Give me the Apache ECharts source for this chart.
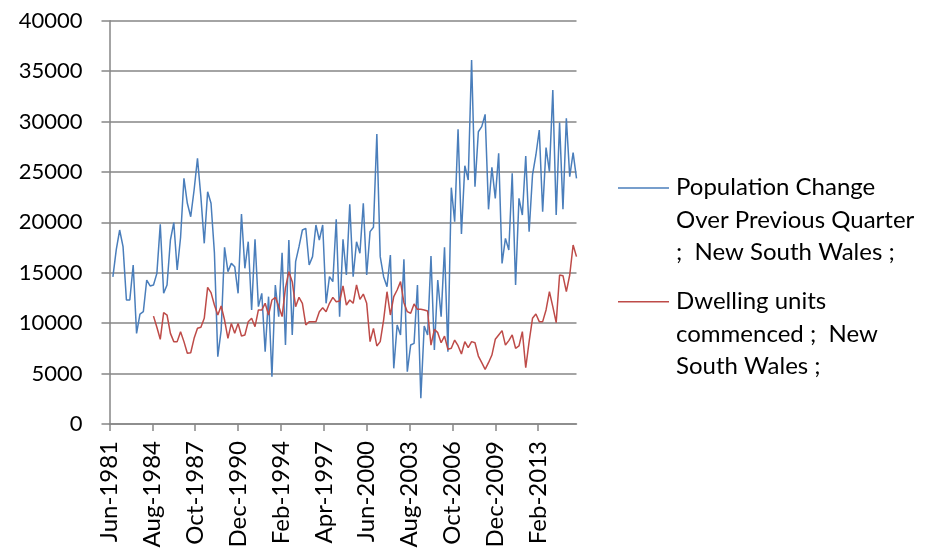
<!DOCTYPE html>
<html>
<head>
<meta charset="utf-8">
<script src="https://cdn.jsdelivr.net/npm/echarts/dist/echarts.min.js"></script>
<style>
  html, body { margin: 0; padding: 0; background: #ffffff; }
  #chart { width: 932px; height: 555px; }
</style>
</head>
<body>
<div id="chart"></div>
<script>
// Monthly category axis running from Jun-1981 to Dec-2015; quarterly observations sit on it.
const monthNames = ['Jan','Feb','Mar','Apr','May','Jun','Jul','Aug','Sep','Oct','Nov','Dec'];
const axisStart = { year: 1981, month: 5 };   // Jun-1981
const axisMonths = 415;                        // through Dec-2015
const tickLabels = ['Jun-1981','Aug-1984','Oct-1987','Dec-1990','Feb-1994','Apr-1997',
                    'Jun-2000','Aug-2003','Oct-2006','Dec-2009','Feb-2013'];
const yTicks = [0, 5000, 10000, 15000, 20000, 25000, 30000, 35000, 40000];

// Quarterly population change, NSW, from Sep-1981
const popChange = [
  14600, 17300, 19240, 17590, 12300, 12300, 15770, 8990, 10900, 11140,
  14280, 13690, 13790, 14940, 19800, 12960, 13790, 18250, 19970, 15270,
  18500, 24360, 21890, 20560, 23210, 26350, 22550, 17920, 23040, 21890,
  17000, 6680, 9320, 17520, 15110, 15930, 15600, 12960, 20830, 15440,
  18080, 11310, 18310, 11640, 12960, 7170, 12630, 4690, 13790, 10650,
  16990, 7840, 18250, 8830, 16100, 17590, 19240, 19410, 15770, 16600,
  19740, 18250, 19740, 11970, 14610, 14120, 20300, 10650, 18320, 14780,
  21790, 14610, 18080, 16930, 21890, 14780, 19080, 19510, 28760, 16600,
  14610, 13620, 16760, 5520, 9820, 8830, 16330, 5190, 7840, 8000,
  13790, 2550, 9720, 8830, 16660, 7340, 14280, 10650, 17520, 7170,
  23440, 20070, 29230, 18840, 25620, 24200, 36100, 23540, 28990, 29490,
  30710, 21290, 25460, 22380, 26850, 15930, 18410, 17260, 24860, 13790,
  22380, 20730, 26580, 19080, 24700, 26680, 29160, 21060, 27410, 25030,
  33130, 20730, 29890, 21290, 30320, 24530, 26910, 24370
];

// Quarterly dwelling units commenced, NSW, from Sep-1984
const dwellingStartQuarter = 12;   // quarters after Sep-1981
const dwellings = [
  10700, 9600, 8400, 11040, 10810, 8990, 8170, 8170, 9160, 8170,
  7010, 7070, 8500, 9490, 9590, 10480, 13550, 13030, 11800, 10810,
  11700, 10310, 8500, 9980, 8990, 9980, 8730, 8830, 10150, 10480,
  9650, 11310, 11310, 11970, 10810, 12300, 12560, 11700, 10650, 13500,
  15110, 14120, 11640, 12560, 11970, 9820, 10150, 10150, 10150, 11140,
  11540, 11140, 11970, 12560, 12130, 12200, 13690, 11800, 12300, 11970,
  13790, 12360, 12890, 11970, 8170, 9490, 7740, 8170, 10310, 13120,
  10810, 12630, 13290, 14120, 12030, 11140, 10980, 11900, 11370, 11370,
  11310, 11200, 7830, 9390, 9060, 8060, 8720, 7410, 7510, 8330,
  7770, 6940, 8170, 7570, 8170, 8060, 6740, 6080, 5420, 6080,
  6840, 8400, 8830, 9260, 7830, 8270, 8830, 7510, 7740, 9160,
  5580, 8170, 10480, 10910, 10150, 10150, 11310, 13120, 11640, 10050,
  14780, 14710, 13120, 14780, 17750, 16600
];

const seriesNames = [
  'Population Change\nOver Previous Quarter\n;  New South Wales ;',
  'Dwelling units\ncommenced ;  New\nSouth Wales ;'
];
const colors = ['#4a7ebb', '#be4b48'];

// Build the month list for the category axis
const categories = [];
for (let i = 0; i < axisMonths; i++) {
  const m = axisStart.month + i;
  categories.push(monthNames[m % 12] + '-' + (axisStart.year + Math.floor(m / 12)));
}
const firstQuarterIdx = categories.indexOf('Sep-1981');
const quarterIndex = q => firstQuarterIdx + 3 * q;

const popData = popChange.map((v, q) => [quarterIndex(q), v]);
const dwellData = dwellings.map((v, i) => [quarterIndex(dwellingStartQuarter + i), v]);

const isTick = idx => tickLabels.indexOf(categories[idx]) !== -1;

const FONT = 'Lato';
const gridColor = '#868686';

const chart = echarts.init(document.getElementById('chart'), null, { renderer: 'canvas' });

// Legend drawn as line swatches with wrapped labels
function legendItem(y, color, text) {
  return [
    { type: 'line', shape: { x1: 618, y1: y, x2: 669, y2: y },
      style: { stroke: color, lineWidth: 1.5 }, silent: true },
    { type: 'text', left: 676, top: y - 16.5,
      style: { text: text, font: '24px ' + FONT, fill: '#000', lineHeight: 32.5 }, silent: true }
  ];
}

chart.setOption({
  animation: false,
  color: colors,
  grid: { left: 109.5, right: 355.5, top: 20.7, bottom: 131, containLabel: false },
  xAxis: {
    type: 'category',
    data: categories,
    boundaryGap: false,
    axisLine: { lineStyle: { color: gridColor, width: 1.5 } },
    axisTick: { show: true, length: 7, interval: idx => isTick(idx),
                lineStyle: { color: gridColor, width: 1.5 } },
    axisLabel: { interval: idx => isTick(idx), rotate: 90, margin: 17,
                 fontFamily: FONT, fontSize: 24, color: '#000' },
    splitLine: { show: false }
  },
  yAxis: {
    type: 'value',
    min: yTicks[0],
    max: yTicks[yTicks.length - 1],
    interval: yTicks[1] - yTicks[0],
    axisLine: { show: true, lineStyle: { color: gridColor, width: 1.5 } },
    axisTick: { show: true, length: 8, lineStyle: { color: gridColor, width: 1.5 } },
    axisLabel: { margin: 27, fontFamily: FONT, fontSize: 22, color: '#000',
                 formatter: v => String(v) },
    splitLine: { show: true, lineStyle: { color: gridColor, width: 1.5 } }
  },
  series: [
    { name: seriesNames[0], type: 'line', data: popData, showSymbol: false,
      lineStyle: { width: 1.5, color: colors[0] }, z: 3 },
    { name: seriesNames[1], type: 'line', data: dwellData, showSymbol: false,
      lineStyle: { width: 1.5, color: colors[1] }, z: 4 }
  ],
  graphic: [].concat(
    legendItem(188, colors[0], seriesNames[0]),
    legendItem(301.7, colors[1], seriesNames[1])
  )
});
</script>
</body>
</html>
